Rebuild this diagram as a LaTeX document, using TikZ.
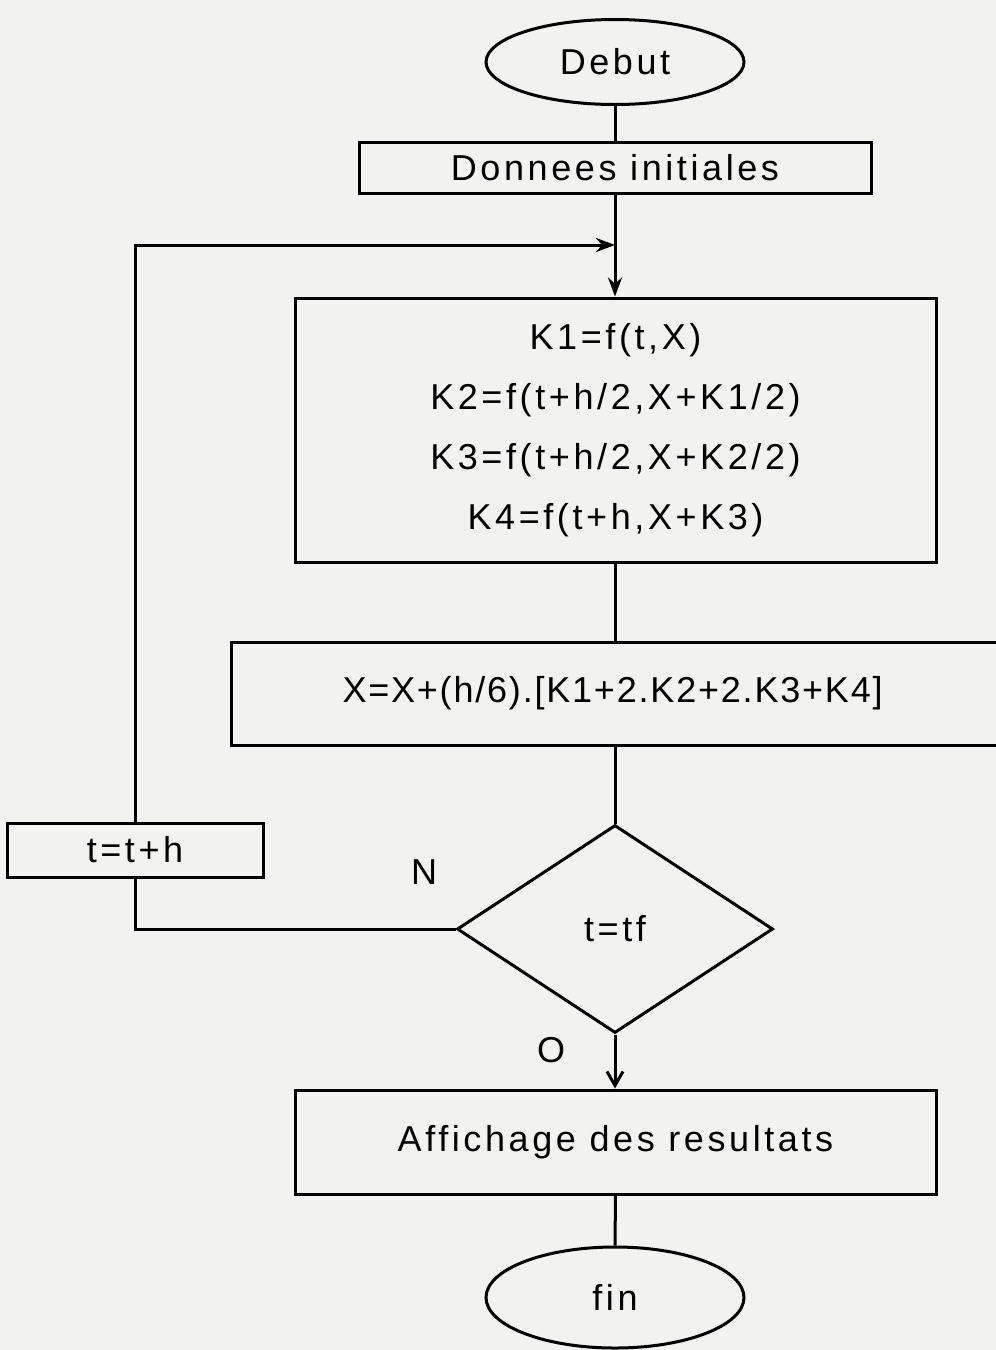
\documentclass[tikz,border=0pt]{standalone}
\usepackage{fontspec}
\setmainfont[LetterSpace=10]{Liberation Sans}
\usetikzlibrary{shapes.geometric, arrows.meta}

\definecolor{papier}{RGB}{242,242,240}

\begin{document}
\begin{tikzpicture}[x=1pt, y=-1pt, line width=3pt,
        font=\fontsize{36}{60}\selectfont,
        boite/.style={draw, rectangle, inner sep=0pt},
        ovale/.style={draw, ellipse, inner sep=0pt},
        test/.style={draw, diamond, inner sep=0pt},
        fleche/.style={-{Stealth[length=19pt, width=14pt]}},
        flecheV/.style={-{Straight Barb[length=14pt, width=16pt]}}]

        % Cadre
        \useasboundingbox (0,0) rectangle (996,1350);
        \clip (0,0) rectangle (996,1350);
        \fill[papier] (0,0) rectangle (996,1350);

        % Debut et donnees
        \node[ovale, minimum width=258pt, minimum height=85pt] (debut) at (615,62) {Debut};
        \node[boite, minimum width=512pt, minimum height=51pt] (donnees) at (615,167.5) {Donnees initiales};

        % Calcul des K
        \node[boite, minimum width=641pt, minimum height=264pt, align=center] (calcK) at (615.5,430)
            {K1=f(t,X)\\K2=f(t+h/2,X+K1/2)\\K3=f(t+h/2,X+K2/2)\\K4=f(t+h,X+K3)};

        % Mise a jour de X (coupee a droite)
        \node[boite, minimum width=779pt, minimum height=103pt, text width=768pt, align=left] (majX) at (620.5,693.5)
            {\hspace*{106pt}\addfontfeatures{LetterSpace=5}X=X+(h/6).[K1+2.K2+2.K3+K4]};

        % Test et increment
        \node[test, minimum width=316pt, minimum height=208pt] (test) at (615,929) {t=tf};
        \node[boite, minimum width=256pt, minimum height=54pt] (incr) at (135,850) {t=t+h};
        \node (non) at (424,872) {N};
        \node (oui) at (551,1050) {O};

        % Resultats et fin
        \node[boite, minimum width=641pt, minimum height=104pt] (resultats) at (615.5,1142) {Affichage des resultats};
        \node[ovale, minimum width=258pt, minimum height=101pt] (fin) at (615,1297.5) {fin};

        % Liaisons
        \coordinate (retour) at (615,245);
        \draw (debut) -- (donnees);
        \draw[fleche] (donnees) -- (calcK.north -| donnees.south);
        \draw[fleche] (incr) |- (retour);
        \draw (calcK) -- (calcK.south |- majX.north);
        \draw (majX.south -| test.north) -- (test);
        \draw (test.west) -| (incr);
        \draw[flecheV] (test) -- (resultats.north -| test.south);
        \draw (resultats) -- (fin);
    \end{tikzpicture}
\end{document}
